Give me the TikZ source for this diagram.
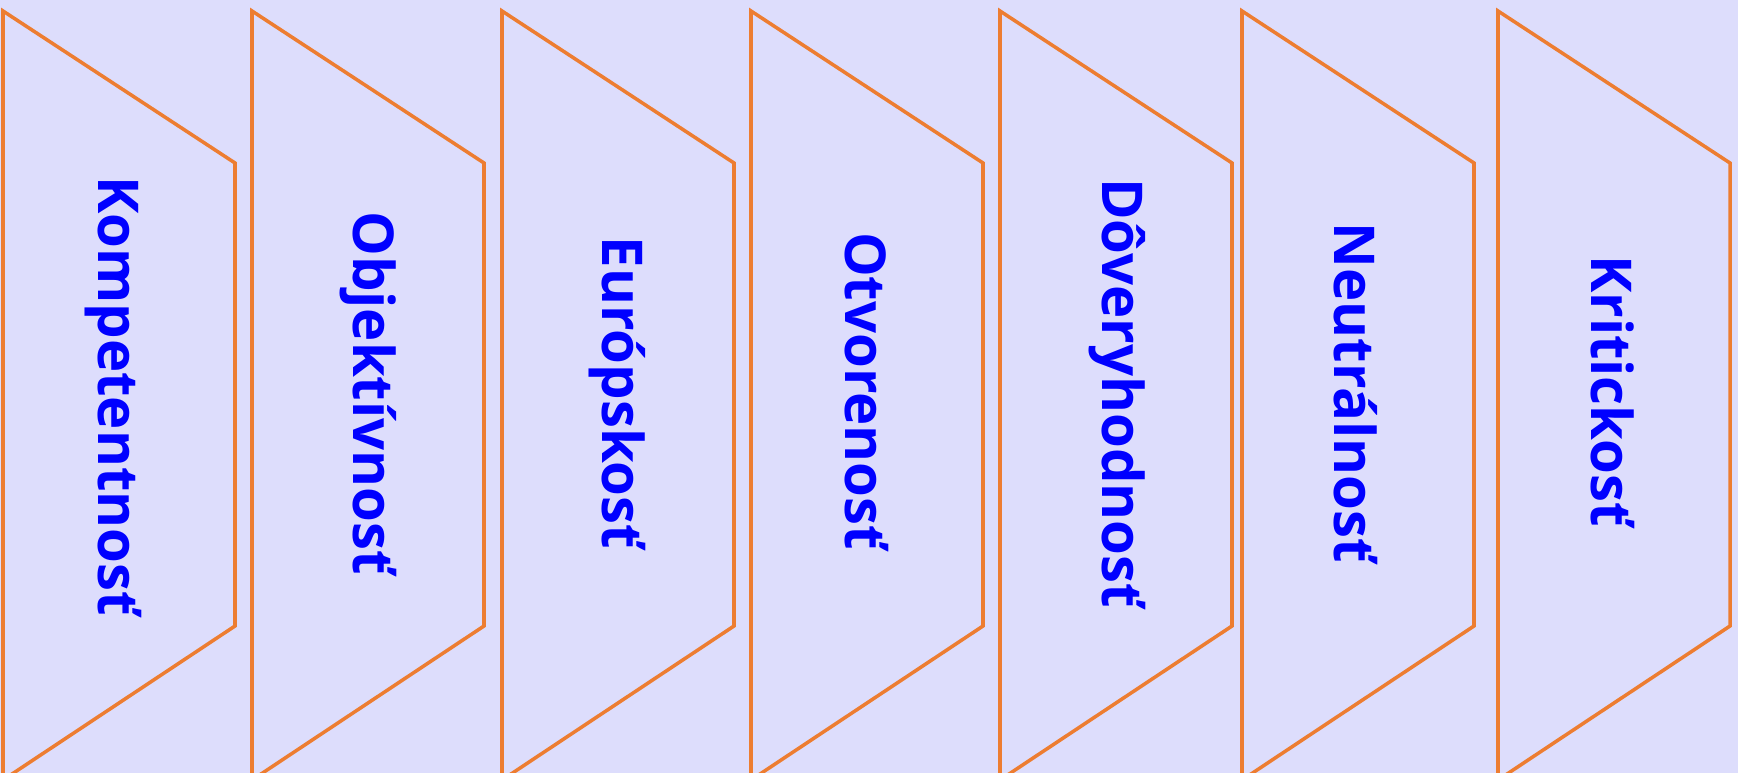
\documentclass[tikz,border=0pt]{standalone}
\usepackage{fontspec}
\setmainfont{Open Sans}
\definecolor{panelorange}{RGB}{237,125,49}
\definecolor{backlilac}{RGB}{221,221,252}
\definecolor{valueblue}{RGB}{0,0,255}
\begin{document}
\begin{tikzpicture}[x=0.01cm, y=0.01cm]
\tikzstyle{every node}+=[inner sep=0pt]
\tikzstyle{panel}=[draw=panelorange, line width=1pt, line join=miter]
\tikzstyle{value}=[rotate=-90, text=valueblue, font=\fontsize{16}{19}\selectfont\bfseries]
\useasboundingbox (0,0) rectangle (1738,-773);
\clip (0,0) rectangle (1738,-773);
\fill [backlilac] (0,0) rectangle (1738,-773);
%panel 1
\draw [panel] (3,-11) -- (235,-163) -- (235,-626) -- (3,-780) -- cycle;
\node [value] (kompetentnost) at (113,-396) {Kompetentnosť};
%panel 2
\draw [panel] (252,-11) -- (484,-163) -- (484,-626) -- (252,-780) -- cycle;
\node [value] (objektivnost) at (368,-393) {Objektívnosť};
%panel 3
\draw [panel] (502,-11) -- (734,-163) -- (734,-626) -- (502,-780) -- cycle;
\node [value] (europskost) at (617,-393) {Európskosť};

%panel 4
\draw [panel] (751,-11) -- (983,-163) -- (983,-626) -- (751,-780) -- cycle;
\node [value] (otvorenost) at (867,-391) {Otvorenosť};
%panel 5
\draw [panel] (1000,-11) -- (1232,-163) -- (1232,-626) -- (1000,-780) -- cycle;
\node [value] (doveryhodnost) at (1117,-393) {Dôveryhodnosť};
% panel 6
\draw [panel] (1242,-11) -- (1474,-163) -- (1474,-626) -- (1242,-780) -- cycle;
\node [value] (neutralnost) at (1356,-393) {Neutrálnosť};

%panel 7
\draw [panel] (1498,-11) -- (1730,-163) -- (1730,-626) -- (1498,-780) -- cycle;
\node [value] (kritickost) at (1613,-391) {Kritickosť};
\end{tikzpicture}
\end{document}
